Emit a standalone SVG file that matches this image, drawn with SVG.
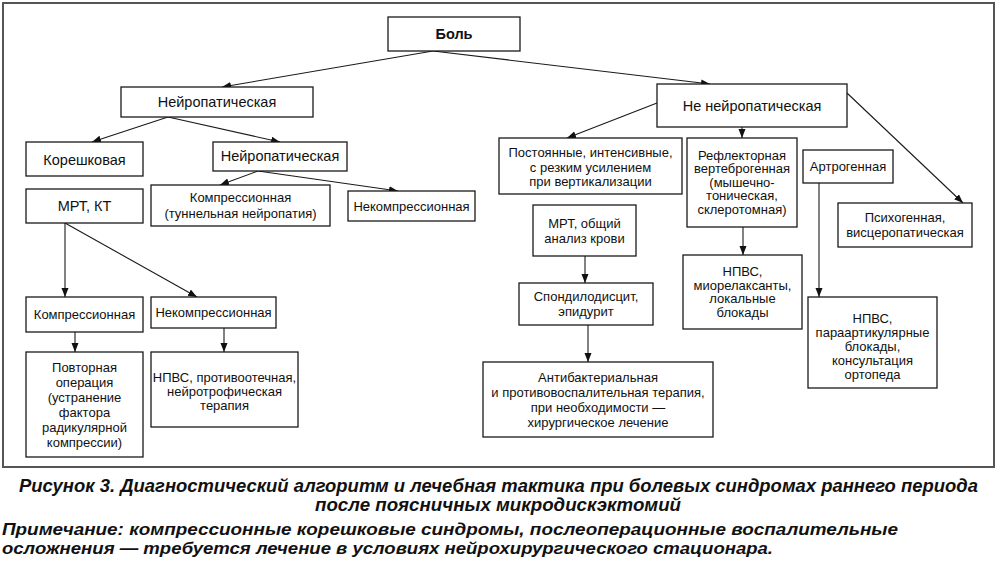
<svg xmlns="http://www.w3.org/2000/svg" width="1000" height="563" viewBox="0 0 1000 563">
<defs>
<marker id="arr" markerUnits="userSpaceOnUse" markerWidth="10" markerHeight="8" refX="9" refY="3.5" orient="auto">
<path d="M0,0 L9,3.5 L0,7 z" fill="#111"/>
</marker>
<style>
.box{fill:#fff;stroke:#1a1a1a;stroke-width:1.3}
.t{font-family:"Liberation Sans",Arial,sans-serif;font-size:13px;fill:#111;text-anchor:middle}
.tl{font-family:"Liberation Sans",Arial,sans-serif;font-size:14.5px;fill:#111;text-anchor:middle}
.b{font-weight:bold}
.cap{font-family:"Liberation Sans",Arial,sans-serif;font-size:17.5px;font-weight:bold;font-style:italic;fill:#111}
.note{font-size:16px}
.c line,.c path{stroke:#1a1a1a;stroke-width:1.1;fill:none;marker-end:url(#arr)}
</style>
</defs>
<rect width="1000" height="563" fill="#fff"/>
<rect x="3" y="3" width="991" height="464" fill="none" stroke="#555" stroke-width="2"/>

<g id="connectors" class="c">
<line x1="433" y1="51" x2="222" y2="87"/>
<line x1="433" y1="51" x2="710" y2="84"/>
<line x1="168" y1="117" x2="92" y2="142"/>
<line x1="168" y1="117" x2="280" y2="142"/>
<line x1="258" y1="171" x2="220" y2="185"/>
<line x1="258" y1="171" x2="398" y2="191"/>
<line x1="65" y1="223" x2="65" y2="297"/>
<line x1="65" y1="223" x2="197" y2="297"/>
<line x1="75" y1="332" x2="75" y2="352"/>
<line x1="224" y1="328" x2="224" y2="352"/>
<line x1="657" y1="103" x2="567" y2="138"/>
<line x1="742" y1="127" x2="742" y2="138"/>
<line x1="847" y1="93" x2="963" y2="203"/>
<line x1="743" y1="227" x2="743" y2="255"/>
<line x1="819" y1="183" x2="819" y2="297"/>
<line x1="585" y1="256" x2="585" y2="283"/>
<line x1="588" y1="325" x2="588" y2="362"/>
</g>

<g id="n-bol"><rect class="box" x="388" y="17" width="132" height="34"/><text class="tl b" x="454" y="39">Боль</text></g>
<g id="n-neuro"><rect class="box" x="121" y="87" width="192" height="30"/><text class="tl" x="217" y="107">Нейропатическая</text></g>
<g id="n-koresh"><rect class="box" x="26" y="142" width="117" height="34"/><text class="tl" x="84.5" y="165">Корешковая</text></g>
<g id="n-neuro2"><rect class="box" x="213" y="142" width="134" height="29"/><text class="tl" x="280" y="161">Нейропатическая</text></g>
<g id="n-mrt"><rect class="box" x="26" y="189" width="117" height="34"/><text class="tl" x="84.5" y="211">МРТ, КТ</text></g>
<g id="n-komp-tun"><rect class="box" x="151" y="185" width="179" height="41"/><text class="t" x="240.5" y="201.5">Компрессионная</text><text class="t" x="240.5" y="217.5">(туннельная нейропатия)</text></g>
<g id="n-nekomp1"><rect class="box" x="348" y="191" width="127" height="30"/><text class="t" x="411.5" y="210.5">Некомпрессионная</text></g>
<g id="n-komp"><rect class="box" x="26" y="297" width="117" height="35"/><text class="t" x="84.5" y="319">Компрессионная</text></g>
<g id="n-nekomp2"><rect class="box" x="151" y="297" width="125" height="31"/><text class="t" x="213.5" y="317">Некомпрессионная</text></g>
<g id="n-povt"><rect class="box" x="26" y="352" width="117" height="105"/>
<text class="t" x="84.5" y="371.5">Повторная</text><text class="t" x="84.5" y="386.5">операция</text><text class="t" x="84.5" y="401.5">(устранение</text><text class="t" x="84.5" y="416.5">фактора</text><text class="t" x="84.5" y="431.5">радикулярной</text><text class="t" x="84.5" y="446.5">компрессии)</text></g>
<g id="n-npvs1"><rect class="box" x="151" y="352" width="147" height="75"/>
<text class="t" x="224.5" y="381.5">НПВС, противоотечная,</text><text class="t" x="224.5" y="395.5">нейротрофическая</text><text class="t" x="224.5" y="409.5">терапия</text></g>

<g id="n-neneuro"><rect class="box" x="657" y="84" width="190" height="43"/><text class="tl" x="752" y="110.5">Не нейропатическая</text></g>
<g id="n-post"><rect class="box" x="499" y="138" width="183" height="56"/>
<text class="t" x="590.5" y="157">Постоянные, интенсивные,</text><text class="t" x="590.5" y="171.5">с резким усилением</text><text class="t" x="590.5" y="186">при вертикализации</text></g>
<g id="n-refl"><rect class="box" x="687" y="138" width="110" height="89"/>
<text class="t" x="742" y="159.5">Рефлекторная</text><text class="t" x="742" y="173">вертеброгенная</text><text class="t" x="742" y="186.5">(мышечно-</text><text class="t" x="742" y="200">тоническая,</text><text class="t" x="742" y="213.5">склеротомная)</text></g>
<g id="n-artro"><rect class="box" x="803" y="150" width="90" height="33"/><text class="t" x="848" y="170.5">Артрогенная</text></g>
<g id="n-psych"><rect class="box" x="838" y="203" width="134" height="44"/>
<text class="t" x="905" y="222">Психогенная,</text><text class="t" x="905" y="237">висцеропатическая</text></g>
<g id="n-mrt2"><rect class="box" x="533" y="205" width="103" height="51"/>
<text class="t" x="584.5" y="228">МРТ, общий</text><text class="t" x="584.5" y="243">анализ крови</text></g>
<g id="n-spond"><rect class="box" x="519" y="283" width="134" height="42"/>
<text class="t" x="586" y="301">Спондилодисцит,</text><text class="t" x="586" y="316">эпидурит</text></g>
<g id="n-antib"><rect class="box" x="483" y="362" width="230" height="75"/>
<text class="t" x="598" y="381.5">Антибактериальная</text><text class="t" x="598" y="396.5">и противовоспалительная терапия,</text><text class="t" x="598" y="411.5">при необходимости —</text><text class="t" x="598" y="426.5">хирургическое лечение</text></g>
<g id="n-npvs2"><rect class="box" x="683" y="255" width="119" height="74"/>
<text class="t" x="742.5" y="276">НПВС,</text><text class="t" x="742.5" y="289.5">миорелаксанты,</text><text class="t" x="742.5" y="303">локальные</text><text class="t" x="742.5" y="316.5">блокады</text></g>
<g id="n-npvs3"><rect class="box" x="808" y="297" width="129" height="91"/>
<text class="t" x="872.5" y="322.5">НПВС,</text><text class="t" x="872.5" y="336.5">параартикулярные</text><text class="t" x="872.5" y="350.5">блокады,</text><text class="t" x="872.5" y="364.5">консультация</text><text class="t" x="872.5" y="378.5">ортопеда</text></g>

<g id="caption">
<text class="cap" x="19" y="492" textLength="959" lengthAdjust="spacingAndGlyphs">Рисунок 3. Диагностический алгоритм и лечебная тактика при болевых синдромах раннего периода</text>
<text class="cap" x="315" y="511" textLength="366" lengthAdjust="spacingAndGlyphs">после поясничных микродискэктомий</text>
<text class="cap note" x="2" y="535" textLength="896" lengthAdjust="spacingAndGlyphs">Примечание: компрессионные корешковые синдромы, послеоперационные воспалительные</text>
<text class="cap note" x="2" y="554" textLength="771" lengthAdjust="spacingAndGlyphs">осложнения — требуется лечение в условиях нейрохирургического стационара.</text>
</g>
</svg>
